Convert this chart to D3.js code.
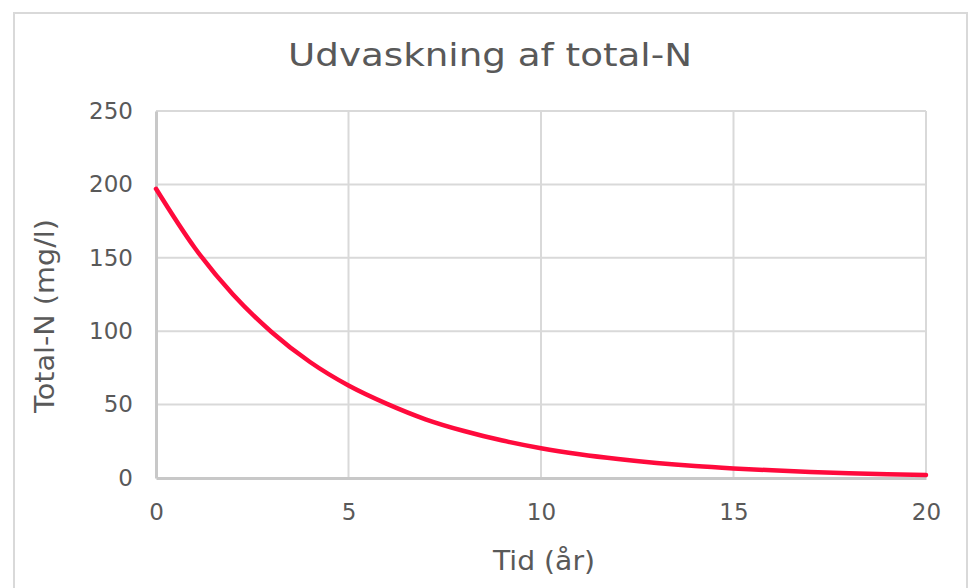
<!DOCTYPE html>
<html lang="da">
<head>
<meta charset="UTF-8">
<title>Udvaskning af total-N</title>
<script src="https://cdn.jsdelivr.net/npm/d3@7"></script>
<style>
    body { margin: 0; background: #fff; }
    text { font-family: "DejaVu Sans", Verdana, sans-serif; fill: #595959; }
</style>
</head>
<body>
<script>
    // years (x) and total-N concentration (y)
    var years = [0, 1, 2, 3, 4, 5, 6, 7, 8, 9, 10, 11, 12, 13, 14, 15, 16, 17, 18, 19, 20];
    var totalN = [197, 157, 125, 99.5, 79, 63, 50.5, 40, 32, 25.5, 20.3, 16.2, 12.9, 10.2, 8.1, 6.5, 5.2, 4.1, 3.3, 2.6, 2.1];
    var xTicks = [0, 5, 10, 15, 20];
    var yTicks = [0, 50, 100, 150, 200, 250];

    var width = 969, height = 588;
    var margin = {top: 111, right: 43, bottom: 110, left: 156};

    var svg = d3.select('body').append('svg')
        .attr('width', width)
        .attr('height', height);

    // chart border
    svg.append('rect')
        .attr('x', 14).attr('y', 13)
        .attr('width', 953).attr('height', 600)
        .attr('fill', 'none')
        .attr('stroke', '#d9d9d9')
        .attr('stroke-width', 2);

    var x = d3.scaleLinear().domain([0, 20]).range([margin.left, width - margin.right]);
    var y = d3.scaleLinear().domain([0, 250]).range([height - margin.bottom, margin.top]);

    // gridlines
    svg.append('g').selectAll('line.h')
        .data(yTicks.slice(1))
        .enter().append('line')
        .attr('x1', x(0)).attr('x2', x(20))
        .attr('y1', function(d) { return y(d); })
        .attr('y2', function(d) { return y(d); })
        .attr('stroke', '#d9d9d9').attr('stroke-width', 2);

    svg.append('g').selectAll('line.v')
        .data(xTicks.slice(1))
        .enter().append('line')
        .attr('x1', function(d) { return x(d); })
        .attr('x2', function(d) { return x(d); })
        .attr('y1', y(0)).attr('y2', y(250))
        .attr('stroke', '#d9d9d9').attr('stroke-width', 2);

    // axes
    var xAxis = svg.append('g')
        .attr('transform', 'translate(0,' + y(0) + ')')
        .call(d3.axisBottom(x).tickValues(xTicks).tickSize(0).tickPadding(26));
    var yAxis = svg.append('g')
        .attr('transform', 'translate(' + x(0) + ',0)')
        .call(d3.axisLeft(y).tickValues(yTicks).tickSize(0).tickPadding(23));

    [xAxis, yAxis].forEach(function(a) {
        a.select('.domain').attr('stroke', '#c8c8c8').attr('stroke-width', 3);
        a.selectAll('text').style('font-size', '23px')
            .style('font-family', '"DejaVu Sans", Verdana, sans-serif')
            .attr('fill', '#595959');
    });

    // the curve
    var line = d3.line()
        .x(function(d, i) { return x(years[i]); })
        .y(function(d) { return y(d); })
        .curve(d3.curveMonotoneX);

    svg.append('path')
        .datum(totalN)
        .attr('d', line)
        .attr('fill', 'none')
        .attr('stroke', '#ff0a3c')
        .attr('stroke-width', 4.5)
        .attr('stroke-linecap', 'round');

    // titles
    svg.append('text')
        .attr('x', 490).attr('y', 66)
        .attr('text-anchor', 'middle')
        .attr('textLength', 404)
        .attr('lengthAdjust', 'spacingAndGlyphs')
        .style('font-size', '31.5px')
        .text('Udvaskning af total-N');

    svg.append('text')
        .attr('x', 544).attr('y', 570)
        .attr('text-anchor', 'middle')
        .attr('textLength', 102)
        .attr('lengthAdjust', 'spacingAndGlyphs')
        .style('font-size', '26px')
        .text('Tid (år)');

    svg.append('text')
        .attr('transform', 'translate(54,316) rotate(-90)')
        .attr('text-anchor', 'middle')
        .attr('textLength', 194)
        .attr('lengthAdjust', 'spacingAndGlyphs')
        .style('font-size', '26px')
        .text('Total-N (mg/l)');
</script>
</body>
</html>
